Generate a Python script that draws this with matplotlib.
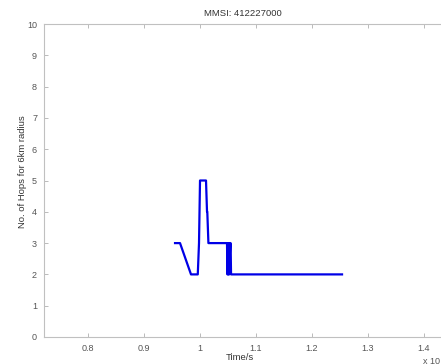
import matplotlib
matplotlib.use("Agg")
import matplotlib.pyplot as plt

# time (x 1e9 s) and hop count
t = [0.9554, 0.9643, 0.9839, 0.9929, 0.9960, 0.9982, 1.0000, 1.0107,
     1.0125, 1.0130, 1.0150, 1.0161, 1.0482, 1.0490, 1.0500, 1.0505,
     1.0515, 1.0520, 1.0540, 1.0546, 1.0554, 1.2536]
hops = [3, 3, 2, 2, 2, 3, 5, 5,
        4, 4, 3, 3, 3, 2, 3, 2,
        3, 2, 3, 3, 2, 2]

title = "MMSI: 412227000"
xticks = [0.8, 0.9, 1.0, 1.1, 1.2, 1.3, 1.4]
xlabels = ["0.8", "0.9", "1", "1.1", "1.2", "1.3", "1.4"]
yticks = list(range(0, 11))

plt.rcParams['font.family'] = ['Liberation Sans', 'DejaVu Sans']
grey = "#555555"

fig = plt.figure(figsize=(4.41, 3.64), dpi=100)
ax = fig.add_axes([44 / 441, 27 / 364, 1.0, 313 / 364])
ax.plot(t, hops, color="#0000e6", lw=1.6)

ax.set_xlim(0.7214, 0.7214 + 1.0 * 441 / 560)
ax.set_ylim(0, 10)
ax.set_xticks(xticks)
ax.set_xticklabels(xlabels)
ax.set_yticks(yticks)
ax.tick_params(direction="in", length=3, width=0.6, colors="#b0b0b0",
               labelcolor=grey, labelsize=6.5, top=True, right=True, pad=5)
for s in ax.spines.values():
    s.set_color("#c0c0c0")
    s.set_linewidth(0.8)

fig.text(243 / 441, 1 - 14 / 364, title, ha="center", va="center",
         fontsize=6.8, color="#333333")
fig.text(240 / 441, 1 - 357 / 364, "Time/s", ha="center", va="center",
         fontsize=6.8, color="#333333")
fig.text(23 / 441, 1 - 172 / 364, "No. of Hops for 6km radius", ha="center",
         va="center", rotation=90, fontsize=6.8, color="#333333")
fig.text(423 / 441, 1 - 361 / 364, "x 10", ha="left", va="center",
         fontsize=6.5, color=grey)

fig.savefig("out.png", dpi=100)
